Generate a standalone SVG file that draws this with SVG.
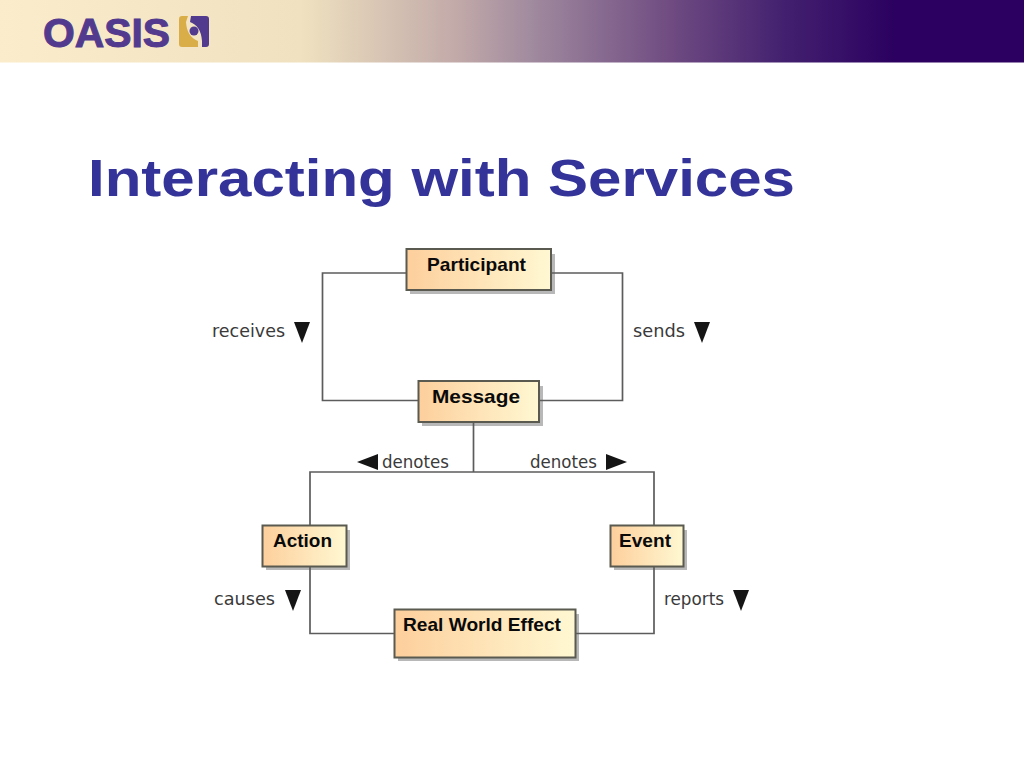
<svg xmlns="http://www.w3.org/2000/svg" width="1024" height="768" viewBox="0 0 1024 768">
<style>
.box{stroke:#5a5a50;stroke-width:2;fill:url(#nodeFill)}
.shadow{fill:#b8b8b8}
.conn{fill:none;stroke:#5c5c5c;stroke-width:1.7}
.name{font:bold 19px "Liberation Sans",Arial,sans-serif;fill:#0a0a0a}
.lab{font:18px "DejaVu Sans","Liberation Sans",sans-serif;fill:#3a3a3a}
.tri{fill:#151515}
.logo-p{fill:#523a8e}
</style>
<defs>
<linearGradient id="band" x1="0" x2="1" y1="0" y2="0">
<stop offset="0" stop-color="#fbeccb"/><stop offset=".293" stop-color="#f0e2c0"/><stop offset=".45" stop-color="#c0a8a8"/><stop offset=".52" stop-color="#a08a9e"/><stop offset=".653" stop-color="#704c82"/><stop offset=".767" stop-color="#43206f"/><stop offset=".875" stop-color="#2b0060"/><stop offset="1" stop-color="#2b0060"/>
</linearGradient>
<linearGradient id="nodeFill" x1="0" x2="1" y1="0" y2="0">
<stop offset="0" stop-color="#fdcf9c"/><stop offset="1" stop-color="#fff8d2"/>
</linearGradient>
</defs>
<rect width="1024" height="768" fill="#fff"/>
<rect id="header-band" width="1024" height="62.500" fill="url(#band)"/>
<g id="logo">
<text x="43" y="46.500" font-family="'Liberation Sans',Arial,sans-serif" font-weight="bold" font-size="40" fill="#523a8e" textLength="127" lengthAdjust="spacingAndGlyphs" stroke="#523a8e" stroke-width="1">OASIS</text>
<path d="M182 16H188L186 22Q187 37 198 41V47H182Q179 47 179 44V19Q179 16 182 16Z" fill="#d9ae48"/>
<path class="logo-p" d="M191 16H206Q209 16 209 19V44Q209 47 206 47H202V41Q201 26 190 22Z"/>
<circle class="logo-p" cx="194" cy="31" r="4.500"/>
</g>
<text id="title" x="88" y="196" font-family="'Liberation Sans',Arial,sans-serif" font-weight="bold" font-size="52" fill="#333399" textLength="707" lengthAdjust="spacingAndGlyphs">Interacting with Services</text>
<g id="node-participant">
<rect class="shadow" x="410" y="254" width="145" height="40"/>
<rect class="box" x="406.500" y="249" width="144.500" height="41"/>
<text class="name" x="427" y="270.500" textLength="99" lengthAdjust="spacingAndGlyphs">Participant</text>
</g>
<g id="node-message">
<rect class="shadow" x="422" y="386" width="121" height="40"/>
<rect class="box" x="418.500" y="381" width="120.500" height="41"/>
<text class="name" x="432" y="402.500" textLength="88" lengthAdjust="spacingAndGlyphs">Message</text>
</g>
<g id="node-action">
<rect class="shadow" x="266" y="530" width="84" height="40"/>
<rect class="box" x="262.500" y="525.500" width="84" height="41"/>
<text class="name" x="273" y="547" textLength="59" lengthAdjust="spacingAndGlyphs">Action</text>
</g>
<g id="node-event">
<rect class="shadow" x="614" y="530" width="73" height="40"/>
<rect class="box" x="610.500" y="525.500" width="73" height="41"/>
<text class="name" x="619" y="547" textLength="52" lengthAdjust="spacingAndGlyphs">Event</text>
</g>
<g id="node-real-world-effect">
<rect class="shadow" x="398" y="614" width="181" height="47"/>
<rect class="box" x="394.500" y="609.500" width="181" height="48"/>
<text class="name" x="403" y="631" textLength="158" lengthAdjust="spacingAndGlyphs">Real World Effect</text>
</g>
<g id="connectors">
<path class="conn" d="M406 273H322.500V400.500H418"/>
<path class="conn" d="M552 273H622.500V400.500H540"/>
<path class="conn" d="M473.500 423V472"/>
<path class="conn" d="M310 525V472H654V525"/>
<path class="conn" d="M310 567V633.500H394"/>
<path class="conn" d="M654 567V633.500H576"/>
</g>
<g id="labels">
<text class="lab" x="212" y="337" textLength="73" lengthAdjust="spacingAndGlyphs">receives</text>
<path class="tri" d="M294 322H310L302 343Z"/>
<text class="lab" x="633" y="337" textLength="52" lengthAdjust="spacingAndGlyphs">sends</text>
<path class="tri" d="M694 322H710L702 343Z"/>
<text class="lab" x="382" y="468" textLength="67" lengthAdjust="spacingAndGlyphs">denotes</text>
<path class="tri" d="M378 454V470L357 462Z"/>
<text class="lab" x="530" y="468" textLength="67" lengthAdjust="spacingAndGlyphs">denotes</text>
<path class="tri" d="M606 454V470L627 462Z"/>
<text class="lab" x="214" y="605" textLength="61" lengthAdjust="spacingAndGlyphs">causes</text>
<path class="tri" d="M285 590H301L293 611Z"/>
<text class="lab" x="664" y="605" textLength="60" lengthAdjust="spacingAndGlyphs">reports</text>
<path class="tri" d="M733 590H749L741 611Z"/>
</g>
</svg>
